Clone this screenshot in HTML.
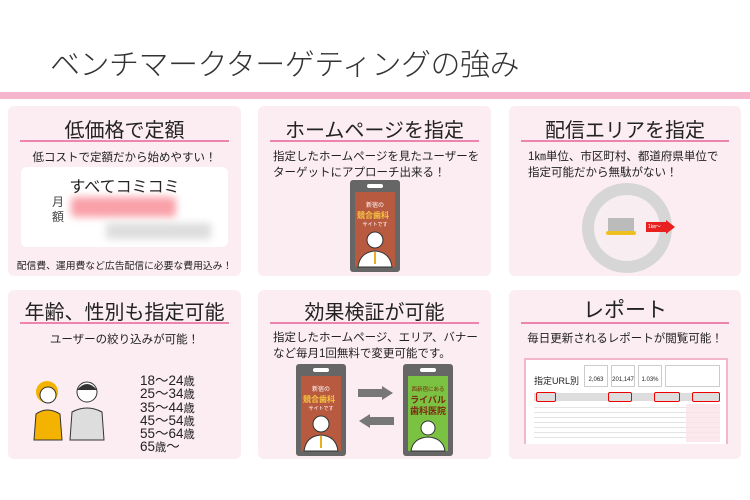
<!DOCTYPE html>
<html><head><meta charset="utf-8"><style>
*{margin:0;padding:0;box-sizing:border-box}
body{width:750px;height:500px;background:#fff;position:relative;overflow:hidden;font-family:"Liberation Sans","Noto Sans CJK JP",sans-serif;color:#222}
.a{position:absolute;white-space:nowrap}
.card{position:absolute;background:#fcedf2;border-radius:6px}
.t{position:absolute;left:0;right:0;text-align:center;font-size:20px;color:#222}
.u{position:absolute;left:12px;right:12px;height:2px;background:#ec85ad}
.s{font-size:11.5px;color:#222}
</style></head><body>
<div class="a" style="left:50px;top:40px;font-size:30px;font-weight:300;color:#333;letter-spacing:-0.5px">ベンチマークターゲティングの強み</div>
<div class="a" style="left:0;top:92px;width:750px;height:7px;background:#f5b5cc"></div>

<!-- card 1 -->
<div class="card" style="left:8px;top:106px;width:233px;height:170px">
 <div class="t" style="top:8px">低価格で定額</div>
 <div class="u" style="top:34px"></div>
 <div class="a s" style="left:0;right:0;text-align:center;top:43px">低コストで定額だから始めやすい！</div>
 <div class="a" style="left:13px;top:61px;width:207px;height:80px;background:#fff;border-radius:6px">
  <div class="a" style="left:0;right:0;text-align:center;top:6px;font-size:16px">すべてコミコミ</div>
  <div class="a" style="left:31px;top:28px;font-size:12px;line-height:15px;white-space:normal;width:14px;color:#444">月額</div>
  <div class="a" style="left:50px;top:30px;width:105px;height:20px;background:#f9a0a8;filter:blur(4px);border-radius:4px"></div>
  <div class="a" style="left:85px;top:56px;width:105px;height:16px;background:#ddd;filter:blur(4px)"></div>
 </div>
 <div class="a" style="left:0;right:0;text-align:center;top:152px;font-size:9.8px">配信費、運用費など広告配信に必要な費用込み！</div>
</div>

<!-- card 2 -->
<div class="card" style="left:258px;top:106px;width:233px;height:170px">
 <div class="t" style="top:8px">ホームページを指定</div>
 <div class="u" style="top:34px"></div>
 <div class="a s" style="left:15px;top:43px;line-height:16px">指定したホームページを見たユーザーを<br>ターゲットにアプローチ出来る！</div>
 <svg class="a" style="left:92px;top:74px" width="50" height="92" viewBox="0 0 50 92">
  <rect x="0" y="0" width="50" height="92" rx="3" fill="#666"/>
  <rect x="17" y="4" width="16" height="4" rx="2" fill="#fff"/>
  <rect x="5" y="12" width="40" height="75" fill="#b85a40"/>
  <text x="25" y="27" font-size="6" fill="#fff" text-anchor="middle" font-family="Noto Sans CJK JP">新宿の</text>
  <text x="23" y="38" font-size="8" fill="#f5c542" text-anchor="middle" font-weight="bold" font-family="Noto Sans CJK JP">競合歯科</text>
  <text x="25" y="46" font-size="5" fill="#fff" text-anchor="middle" font-family="Noto Sans CJK JP">サイトです</text>
  <circle cx="25" cy="60" r="8" fill="#fff" stroke="#333"/>
  <path d="M8 87 Q10 72 25 71 Q40 72 42 87Z" fill="#fff" stroke="#333"/>
  <rect x="24" y="72" width="2" height="12" fill="#e8b020"/>
 </svg>
</div>

<!-- card 3 -->
<div class="card" style="left:509px;top:106px;width:232px;height:170px">
 <div class="t" style="top:8px">配信エリアを指定</div>
 <div class="u" style="top:34px"></div>
 <div class="a s" style="left:19px;top:43px;line-height:16px">1㎞単位、市区町村、都道府県単位で<br>指定可能だから無駄がない！</div>
 <div class="a" style="left:73px;top:77px;width:90px;height:90px;border-radius:50%;background:#d6d6d6"></div>
 <div class="a" style="left:85px;top:89px;width:66px;height:66px;border-radius:50%;background:#f8eef1"></div>
 <div class="a" style="left:99px;top:112px;width:26px;height:15px;background:#bbb"></div>
 <div class="a" style="left:97px;top:125px;width:30px;height:4px;background:#f0c020;border-radius:2px"></div>
 <div class="a" style="left:137px;top:116px;width:20px;height:10px;background:#e82020;font-size:5px;color:#fff;line-height:10px;padding-left:2px">1㎞～</div>
 <div class="a" style="left:157px;top:114px;width:0;height:0;border-left:9px solid #e82020;border-top:7px solid transparent;border-bottom:7px solid transparent"></div>
</div>

<!-- card 4 -->
<div class="card" style="left:8px;top:290px;width:233px;height:169px">
 <div class="t" style="top:6px">年齢、性別も指定可能</div>
 <div class="u" style="top:32px"></div>
 <div class="a s" style="left:0;right:0;text-align:center;top:41px">ユーザーの絞り込みが可能！</div>
 <svg class="a" style="left:24px;top:88px" width="80" height="64" viewBox="0 0 80 64">
  <circle cx="15" cy="14" r="11" fill="#f4b300"/><circle cx="16" cy="17" r="8" fill="#fff" stroke="#333"/>
  <path d="M2 62 L4 36 Q15 28 28 36 L30 62Z" fill="#f4b300" stroke="#333"/>
  <circle cx="55" cy="14" r="10" fill="#fff" stroke="#333"/><path d="M45 12 Q55 0 65 12Z" fill="#333"/>
  <path d="M38 62 L40 34 Q55 26 70 34 L72 62Z" fill="#ddd" stroke="#333"/>
 </svg>
 <div class="a" style="left:132px;top:85px;font-size:13.5px;line-height:12.3px;color:#222">18～24<small>歳</small><br>25～34<small>歳</small><br>35～44<small>歳</small><br>45～54<small>歳</small><br>55～64<small>歳</small><br>65<small>歳</small>～</div>
</div>

<!-- card 5 -->
<div class="card" style="left:258px;top:290px;width:233px;height:169px">
 <div class="t" style="top:6px">効果検証が可能</div>
 <div class="u" style="top:32px"></div>
 <div class="a s" style="left:15px;top:40px;line-height:16px">指定したホームページ、エリア、バナー<br>など毎月1回無料で変更可能です。</div>
 <svg class="a" style="left:38px;top:74px" width="50" height="92" viewBox="0 0 50 92">
  <rect x="0" y="0" width="50" height="92" rx="3" fill="#666"/>
  <rect x="17" y="4" width="16" height="4" rx="2" fill="#fff"/>
  <rect x="5" y="12" width="40" height="75" fill="#b85a40"/>
  <text x="25" y="27" font-size="6" fill="#fff" text-anchor="middle" font-family="Noto Sans CJK JP">新宿の</text>
  <text x="23" y="38" font-size="8" fill="#f5c542" text-anchor="middle" font-weight="bold" font-family="Noto Sans CJK JP">競合歯科</text>
  <text x="25" y="46" font-size="5" fill="#fff" text-anchor="middle" font-family="Noto Sans CJK JP">サイトです</text>
  <circle cx="25" cy="60" r="8" fill="#fff" stroke="#333"/>
  <path d="M8 87 Q10 72 25 71 Q40 72 42 87Z" fill="#fff" stroke="#333"/>
  <rect x="24" y="72" width="2" height="12" fill="#e8b020"/>
 </svg>
 <svg class="a" style="left:100px;top:96px" width="36" height="44" viewBox="0 0 36 44">
  <path d="M0 3 H24 V0 L35 7 L24 14 V11 H0Z" fill="#777"/>
  <path d="M36 31 H12 V28 L1 35 L12 42 V39 H36Z" fill="#777"/>
 </svg>
 <svg class="a" style="left:145px;top:74px" width="50" height="92" viewBox="0 0 50 92">
  <rect x="0" y="0" width="50" height="92" rx="3" fill="#666"/>
  <rect x="17" y="4" width="16" height="4" rx="2" fill="#fff"/>
  <rect x="5" y="12" width="40" height="75" fill="#7cc242"/>
  <text x="25" y="27" font-size="5.5" fill="#7a2a10" text-anchor="middle" font-family="Noto Sans CJK JP">西新宿にある</text>
  <text x="25" y="39" font-size="9" fill="#7a2a10" text-anchor="middle" font-weight="bold" font-family="Noto Sans CJK JP">ライバル</text>
  <text x="25" y="50" font-size="9" fill="#7a2a10" text-anchor="middle" font-weight="bold" font-family="Noto Sans CJK JP">歯科医院</text>
  <circle cx="25" cy="64" r="7" fill="#fff" stroke="#333"/>
  <path d="M8 87 Q10 74 25 73 Q40 74 42 87Z" fill="#fff" stroke="#333"/>
 </svg>
</div>

<!-- card 6 -->
<div class="card" style="left:509px;top:290px;width:232px;height:169px">
 <div class="t" style="top:4px;font-size:21px">レポート</div>
 <div class="u" style="top:32px"></div>
 <div class="a s" style="left:0;right:0;text-align:center;top:40px">毎日更新されるレポートが閲覧可能！</div>
 <div class="a" style="left:15px;top:68px;width:204px;height:86px;background:#fff;border:2px solid #f5b5cc;border-bottom:none">
  <div class="a" style="left:8px;top:14px;font-size:9px">指定URL別</div>
  <div class="a" style="left:58px;top:5px;width:24px;height:22px;border:1px solid #ccc;font-size:6px;text-align:center;line-height:28px">2,063</div>
  <div class="a" style="left:85px;top:5px;width:24px;height:22px;border:1px solid #ccc;font-size:6px;text-align:center;line-height:28px">201,147</div>
  <div class="a" style="left:112px;top:5px;width:24px;height:22px;border:1px solid #ccc;font-size:6px;text-align:center;line-height:28px">1.03%</div>
  <div class="a" style="left:139px;top:5px;width:55px;height:22px;border:1px solid #ccc"></div>
  <div class="a" style="left:8px;top:33px;width:186px;height:8px;background:#ddd"></div>
  <div class="a" style="left:10px;top:32px;width:20px;height:10px;border:1.5px solid #e00;border-radius:2px"></div>
  <div class="a" style="left:82px;top:32px;width:24px;height:10px;border:1.5px solid #e00;border-radius:2px"></div>
  <div class="a" style="left:128px;top:32px;width:26px;height:10px;border:1.5px solid #e00;border-radius:2px"></div>
  <div class="a" style="left:166px;top:32px;width:28px;height:10px;border:1.5px solid #e00;border-radius:2px"></div>
  <div class="a" style="left:8px;top:44px;width:186px;height:38px;background:repeating-linear-gradient(#fff 0 3px,#e4e4e4 3px 4px,#fff 4px 5px)"></div>
  <div class="a" style="left:160px;top:44px;width:34px;height:38px;background:#fbe4ea;opacity:.8"></div>
 </div>
</div>
</body></html>
